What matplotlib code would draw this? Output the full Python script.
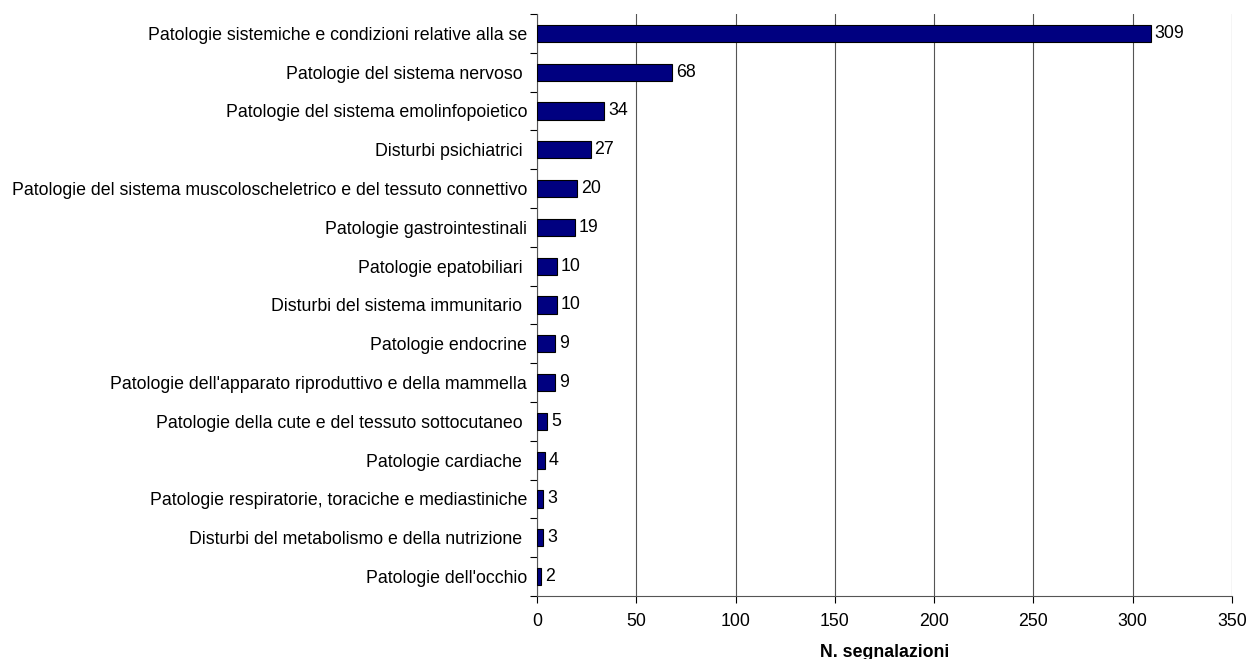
import matplotlib.pyplot as plt
import numpy as np

plt.rcParams['font.family'] = ['Liberation Sans', 'DejaVu Sans']

categories = [
    "Patologie sistemiche e condizioni relative alla se",
    "Patologie del sistema nervoso ",
    "Patologie del sistema emolinfopoietico",
    "Disturbi psichiatrici ",
    "Patologie del sistema muscoloscheletrico e del tessuto connettivo",
    "Patologie gastrointestinali",
    "Patologie epatobiliari ",
    "Disturbi del sistema immunitario ",
    "Patologie endocrine",
    "Patologie dell'apparato riproduttivo e della mammella",
    "Patologie della cute e del tessuto sottocutaneo ",
    "Patologie cardiache ",
    "Patologie respiratorie, toraciche e mediastiniche",
    "Disturbi del metabolismo e della nutrizione ",
    "Patologie dell'occhio",
]
values = [309, 68, 34, 27, 20, 19, 10, 10, 9, 9, 5, 4, 3, 3, 2]
xticks = [0, 50, 100, 150, 200, 250, 300, 350]

fs = 12.8
fig = plt.figure(figsize=(12.47, 6.59), dpi=100)
ax = fig.add_axes([0.4306, 0.0956, 0.5574, 0.8832])

y = np.arange(len(categories))
ax.barh(y, values, height=0.44, color='#000080', edgecolor='black', linewidth=0.8, zorder=3)
for yi, v in zip(y, values):
    ax.text(v + 2, yi, str(v), va='center', ha='left', fontsize=fs, zorder=4)

ax.set_ylim(len(categories) - 0.5, -0.5)
ax.set_xlim(0, 350)
ax.set_yticks(y)
ax.set_yticklabels(categories, fontsize=fs)
ax.set_yticks(np.arange(len(categories) + 1) - 0.5, minor=True)
ax.tick_params(axis='y', which='major', length=0, pad=7)
ax.tick_params(axis='y', which='minor', length=5, width=0.8, direction='out')
ax.set_xticks(xticks)
ax.tick_params(axis='x', length=5, width=0.8, direction='out', labelsize=fs, pad=7)
ax.grid(axis='x', color='#555555', linewidth=0.8, zorder=0)
ax.spines['top'].set_visible(False)
ax.spines['right'].set_visible(False)
ax.spines['left'].set_color('#555555')
ax.spines['bottom'].set_color('#555555')
ax.set_xlabel('N. segnalazioni', fontsize=fs, fontweight='bold', labelpad=10)

fig.savefig('out.png', dpi=100)
